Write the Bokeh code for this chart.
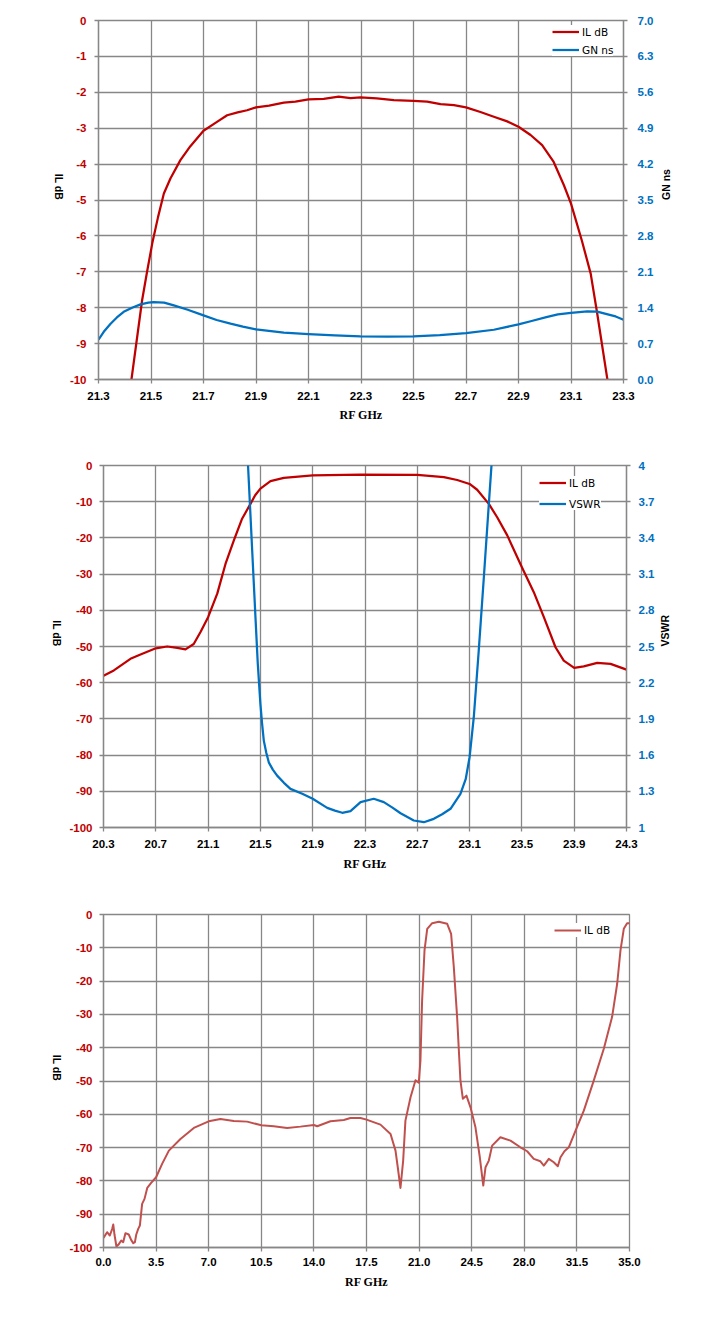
import math
from bokeh.plotting import figure
from bokeh.models import Range1d, LinearAxis, FixedTicker, Legend, LegendItem
from bokeh.embed import file_html
from bokeh.resources import INLINE

# ---------------- data ----------------
# Chart 1
C1_X_TICKS = [21.3, 21.5, 21.7, 21.9, 22.1, 22.3, 22.5, 22.7, 22.9, 23.1, 23.3]
C1_X_LABELS = ["21.3", "21.5", "21.7", "21.9", "22.1", "22.3", "22.5", "22.7", "22.9", "23.1", "23.3"]
C1_Y_TICKS = [0, -1, -2, -3, -4, -5, -6, -7, -8, -9, -10]
C1_Y_LABELS = ["0", "-1", "-2", "-3", "-4", "-5", "-6", "-7", "-8", "-9", "-10"]
C1_R_TICKS = [0.0, 0.7, 1.4, 2.1, 2.8, 3.5, 4.2, 4.9, 5.6, 6.3, 7.0]
C1_R_LABELS = ["0.0", "0.7", "1.4", "2.1", "2.8", "3.5", "4.2", "4.9", "5.6", "6.3", "7.0"]

C1_IL_FREQ = [21.42, 21.466, 21.485, 21.505, 21.527, 21.549, 21.574, 21.612, 21.65, 21.70,
              21.75, 21.79, 21.83, 21.866, 21.9, 21.95, 22.006, 22.05, 22.1, 22.158,
              22.215, 22.26, 22.298, 22.36, 22.425, 22.5, 22.552, 22.603, 22.654, 22.7,
              22.755, 22.806, 22.857, 22.9, 22.946, 22.99, 23.034, 23.073, 23.1, 23.141,
              23.175, 23.2, 23.245]
C1_IL = [-10.3, -7.8, -7.0, -6.2, -5.47, -4.82, -4.40, -3.89, -3.50, -3.07,
         -2.83, -2.64, -2.56, -2.50, -2.42, -2.37, -2.29, -2.26, -2.20, -2.18,
         -2.12, -2.16, -2.14, -2.17, -2.22, -2.24, -2.26, -2.33, -2.36, -2.42,
         -2.55, -2.68, -2.81, -2.96, -3.19, -3.47, -3.94, -4.59, -5.10, -6.12,
         -7.05, -8.17, -10.3]
C1_GN_FREQ = [21.3, 21.32, 21.346, 21.37, 21.396, 21.43, 21.46, 21.49, 21.51, 21.55,
              21.587, 21.64, 21.7, 21.75, 21.803, 21.85, 21.9, 22.006, 22.1, 22.2,
              22.298, 22.4, 22.5, 22.6, 22.7, 22.806, 22.9, 22.95, 23.006, 23.05,
              23.1, 23.162, 23.2, 23.24, 23.27, 23.3]
C1_GN = [0.775, 0.93, 1.088, 1.21, 1.32, 1.405, 1.465, 1.50, 1.51, 1.50,
         1.445, 1.36, 1.25, 1.16, 1.088, 1.03, 0.977, 0.912, 0.885, 0.86,
         0.84, 0.835, 0.84, 0.865, 0.905, 0.97, 1.074, 1.14, 1.217, 1.27,
         1.30, 1.33, 1.325, 1.27, 1.23, 1.166]

# Chart 2
C2_X_TICKS = [20.3, 20.7, 21.1, 21.5, 21.9, 22.3, 22.7, 23.1, 23.5, 23.9, 24.3]
C2_X_LABELS = ["20.3", "20.7", "21.1", "21.5", "21.9", "22.3", "22.7", "23.1", "23.5", "23.9", "24.3"]
C2_Y_TICKS = [0, -10, -20, -30, -40, -50, -60, -70, -80, -90, -100]
C2_Y_LABELS = ["0", "-10", "-20", "-30", "-40", "-50", "-60", "-70", "-80", "-90", "-100"]
C2_R_TICKS = [1.0, 1.3, 1.6, 1.9, 2.2, 2.5, 2.8, 3.1, 3.4, 3.7, 4.0]
C2_R_LABELS = ["1", "1.3", "1.6", "1.9", "2.2", "2.5", "2.8", "3.1", "3.4", "3.7", "4"]

C2_IL_FREQ = [20.3, 20.379, 20.506, 20.583, 20.7, 20.787, 20.864, 20.927, 20.99, 21.042,
              21.1, 21.17, 21.233, 21.297, 21.36, 21.424, 21.46, 21.5, 21.577, 21.679,
              21.9, 22.266, 22.7, 22.903, 23.005, 23.1, 23.158, 23.247, 23.311, 23.388,
              23.5, 23.591, 23.668, 23.757, 23.82, 23.9, 23.973, 24.076, 24.178, 24.3]
C2_IL = [-58.1, -56.6, -53.4, -52.2, -50.5, -50.0, -50.4, -50.8, -49.3, -46.0,
         -41.9, -35.4, -27.2, -20.7, -14.7, -10.6, -8.2, -6.4, -4.3, -3.4,
         -2.76, -2.49, -2.6, -3.2, -4.0, -5.1, -6.7, -10.6, -14.3, -19.3,
         -28.1, -35.0, -41.9, -50.2, -53.9, -55.9, -55.5, -54.5, -54.8, -56.4]
C2_VSWR_FREQ = [21.40, 21.437, 21.462, 21.48, 21.5, 21.513, 21.526, 21.545, 21.564, 21.595,
                21.628, 21.68, 21.73, 21.82, 21.9, 22.011, 22.07, 22.126, 22.189, 22.266,
                22.367, 22.444, 22.51, 22.572, 22.673, 22.75, 22.826, 22.89, 22.954, 23.03,
                23.07, 23.1, 23.132, 23.17, 23.209, 23.247, 23.275]
C2_VSWR = [4.12, 3.30, 2.748, 2.357, 2.025, 1.86, 1.72, 1.62, 1.54, 1.48,
           1.43, 1.37, 1.32, 1.279, 1.238, 1.163, 1.14, 1.122, 1.135, 1.21,
           1.238, 1.21, 1.165, 1.118, 1.058, 1.044, 1.072, 1.11, 1.155, 1.279,
           1.40, 1.583, 1.914, 2.467, 3.074, 3.68, 4.12]

# Chart 3
C3_X_TICKS = [0.0, 3.5, 7.0, 10.5, 14.0, 17.5, 21.0, 24.5, 28.0, 31.5, 35.0]
C3_X_LABELS = ["0.0", "3.5", "7.0", "10.5", "14.0", "17.5", "21.0", "24.5", "28.0", "31.5", "35.0"]
C3_Y_TICKS = [0, -10, -20, -30, -40, -50, -60, -70, -80, -90, -100]
C3_Y_LABELS = ["0", "-10", "-20", "-30", "-40", "-50", "-60", "-70", "-80", "-90", "-100"]

C3_FREQ = [0.0, 0.24, 0.42, 0.58, 0.65, 0.73, 0.86, 1.02, 1.18, 1.31,
           1.46, 1.68, 1.84, 1.98, 2.09, 2.18, 2.31, 2.42, 2.57, 2.73,
           2.91, 3.17, 3.5, 3.9, 4.35, 5.12, 6.01, 7.0, 7.78, 8.67,
           9.56, 10.5, 11.33, 12.22, 13.1, 14.0, 14.22, 15.1, 15.99, 16.43,
           17.1, 17.5, 18.43, 19.1, 19.43, 19.58, 19.76, 19.94, 20.09, 20.43,
           20.76, 20.98, 21.09, 21.2, 21.36, 21.54, 21.87, 22.31, 22.87, 23.13,
           23.31, 23.53, 23.75, 23.91, 24.15, 24.42, 24.75, 25.04, 25.27, 25.42,
           25.64, 25.86, 26.41, 27.08, 27.74, 28.19, 28.63, 29.07, 29.3, 29.63,
           29.96, 30.23, 30.41, 30.67, 30.96, 31.5, 31.96, 32.62, 33.29, 33.84,
           34.18, 34.4, 34.62, 34.84, 35.0]
C3_IL = [-97.1, -95.4, -96.4, -94.4, -93.1, -96.1, -99.7, -99.0, -97.9, -98.4,
         -95.7, -96.1, -97.7, -98.7, -98.4, -96.1, -94.4, -93.4, -86.9, -85.4,
         -82.1, -80.6, -78.9, -74.9, -70.9, -67.4, -64.1, -62.1, -61.4, -62.0,
         -62.2, -63.3, -63.6, -64.1, -63.7, -63.2, -63.6, -62.1, -61.7, -61.1,
         -61.1, -61.6, -63.1, -65.9, -70.9, -75.9, -82.1, -73.9, -61.9, -54.9,
         -49.8, -50.5, -43.8, -25.8, -10.8, -4.3, -2.6, -2.2, -2.8, -5.8,
         -15.8, -30.8, -49.8, -55.3, -54.4, -57.9, -63.9, -72.9, -81.4, -75.9,
         -73.9, -69.4, -66.9, -67.9, -69.9, -71.1, -73.4, -74.1, -75.4, -73.4,
         -74.4, -75.6, -72.9, -71.1, -69.9, -63.9, -58.9, -49.9, -40.3, -30.8,
         -20.8, -10.8, -4.3, -2.6, -2.6]

# ---------------- style ----------------
RED = "#C00000"
BLUE = "#0070C0"
RED3 = "#C0504D"
GRID = "#878787"
TICK_FONT = "Liberation Sans"
GW = 1.3


def style_axis(ax, ticks, labels, color, label_standoff, title, title_standoff,
               title_font="Liberation Sans", title_size="10.5px"):
    ax.ticker = FixedTicker(ticks=ticks)
    ax.major_label_overrides = dict(zip(ticks, labels))
    ax.axis_line_color = GRID
    ax.axis_line_width = GW
    ax.major_tick_line_color = GRID
    ax.major_tick_line_width = GW
    ax.major_tick_out = 4
    ax.major_tick_in = 0
    ax.minor_tick_line_color = None
    ax.major_label_text_font = TICK_FONT
    ax.major_label_text_font_style = "bold"
    ax.major_label_text_font_size = "11.5px"
    ax.major_label_text_color = color
    ax.major_label_standoff = label_standoff
    ax.axis_label = title
    ax.axis_label_text_font = title_font
    ax.axis_label_text_font_style = "bold"
    ax.axis_label_text_font_size = title_size
    ax.axis_label_text_color = "black"
    ax.axis_label_standoff = title_standoff


def make_fig(width, height, xr, yr, borders):
    l, r, t, b = borders
    p = figure(width=width, height=height, x_range=Range1d(*xr), y_range=Range1d(*yr),
               output_backend="svg", toolbar_location=None,
               min_border_left=l, min_border_right=r, min_border_top=t, min_border_bottom=b)
    p.outline_line_color = GRID
    p.outline_line_width = GW
    p.background_fill_color = "white"
    p.border_fill_color = "white"
    return p


def set_grids(p, xticks, yticks):
    p.xgrid.ticker = FixedTicker(ticks=xticks)
    p.ygrid.ticker = FixedTicker(ticks=yticks)
    for g in (p.xgrid, p.ygrid):
        g.grid_line_color = GRID
        g.grid_line_width = GW


def make_legend(items, loc, padding, spacing, h):
    lg = Legend(items=items, location=loc, margin=0, padding=padding, spacing=spacing,
                glyph_width=27, glyph_height=h, label_height=h, label_standoff=3,
                label_text_font="DejaVu Sans", label_text_font_size="10.5px",
                label_text_color="black", border_line_color=None,
                background_fill_color="white", background_fill_alpha=1.0)
    return lg


W = 705

# ---------------- chart 1 ----------------
p1 = make_fig(W, 440, (21.3, 23.3), (-10, 0), (98, W - 623, 20, 61))
p1.extra_y_ranges = {"gn": Range1d(0, 7)}
set_grids(p1, C1_X_TICKS, C1_Y_TICKS)
style_axis(p1.below[0], C1_X_TICKS, C1_X_LABELS, "black", 8, "RF GHz", 5,
           title_font="Liberation Serif", title_size="12px")
style_axis(p1.left[0], C1_Y_TICKS, C1_Y_LABELS, RED, 8, "IL dB", 8)
p1.left[0].axis_label_orientation = -math.pi / 2
ax1r = LinearAxis(y_range_name="gn")
style_axis(ax1r, C1_R_TICKS, C1_R_LABELS, BLUE, 10, "GN ns", 10)
ax1r.axis_label_orientation = math.pi / 2
p1.add_layout(ax1r, "right")
r11 = p1.line(C1_IL_FREQ, C1_IL, line_color=RED, line_width=2.25, line_join="round")
r12 = p1.line(C1_GN_FREQ, C1_GN, line_color=BLUE, line_width=2.25, line_join="round",
              y_range_name="gn")
p1.add_layout(make_legend([LegendItem(label="IL dB", renderers=[r11]),
                           LegendItem(label="GN ns", renderers=[r12])],
                          (454, 323), 5, 5, 13))

# ---------------- chart 2 ----------------
p2 = make_fig(W, 450, (20.3, 24.3), (-100, 0), (103, W - 626, 25, 63))
p2.extra_y_ranges = {"vswr": Range1d(1, 4)}
set_grids(p2, C2_X_TICKS, C2_Y_TICKS)
style_axis(p2.below[0], C2_X_TICKS, C2_X_LABELS, "black", 8, "RF GHz", 6,
           title_font="Liberation Serif", title_size="12px")
style_axis(p2.left[0], C2_Y_TICKS, C2_Y_LABELS, RED, 7, "IL dB", 9)
p2.left[0].axis_label_orientation = -math.pi / 2
ax2r = LinearAxis(y_range_name="vswr")
style_axis(ax2r, C2_R_TICKS, C2_R_LABELS, BLUE, 8, "VSWR", 8)
ax2r.axis_label_orientation = math.pi / 2
p2.add_layout(ax2r, "right")
r21 = p2.line(C2_IL_FREQ, C2_IL, line_color=RED, line_width=2.25, line_join="round")
r22 = p2.line(C2_VSWR_FREQ, C2_VSWR, line_color=BLUE, line_width=2.25, line_join="round",
              y_range_name="vswr")
p2.add_layout(make_legend([LegendItem(label="IL dB", renderers=[r21]),
                           LegendItem(label="VSWR", renderers=[r22])],
                          (436, 317), 3, 8, 13))

# ---------------- chart 3 ----------------
p3 = make_fig(W, 430, (0, 35), (-100, 0), (103, W - 629, 24, 73))
set_grids(p3, C3_X_TICKS, C3_Y_TICKS)
style_axis(p3.below[0], C3_X_TICKS, C3_X_LABELS, "black", 6, "RF GHz", 6,
           title_font="Liberation Serif", title_size="12px")
style_axis(p3.left[0], C3_Y_TICKS, C3_Y_LABELS, RED, 7, "IL dB", 9)
p3.left[0].axis_label_orientation = -math.pi / 2
r31 = p3.line(C3_FREQ, C3_IL, line_color=RED3, line_width=2.0, line_join="round")
p3.add_layout(make_legend([LegendItem(label="IL dB", renderers=[r31])],
                          (451, 310), 8, 0, 14))

open("out.html", "w").write(file_html([p1, p2, p3], INLINE))
